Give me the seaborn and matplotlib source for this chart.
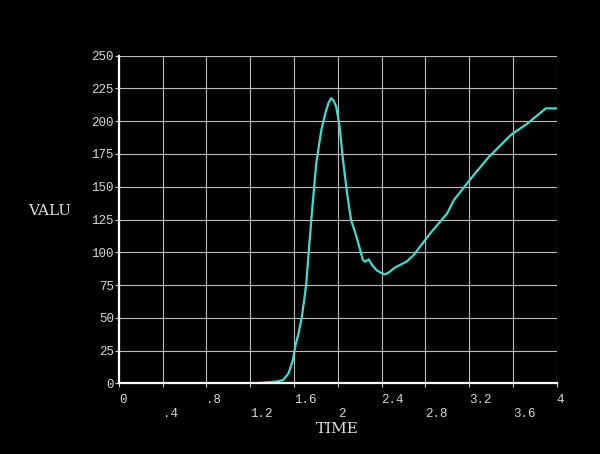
import matplotlib
matplotlib.use("Agg")
import matplotlib.pyplot as plt
import seaborn as sns
import numpy as np

# values
time = [0.0, 1.2, 1.3, 1.4, 1.45, 1.5, 1.55, 1.59, 1.611, 1.641, 1.672,
        1.693, 1.712, 1.724, 1.736, 1.748, 1.76, 1.779, 1.803, 1.849,
        1.886, 1.915, 1.938, 1.96, 1.986,
        2.016, 2.048, 2.085, 2.121, 2.161, 2.2, 2.23, 2.249, 2.282, 2.313,
        2.358, 2.425, 2.456, 2.526, 2.627, 2.694, 2.844, 2.999, 3.06,
        3.228, 3.38, 3.579, 3.732, 3.9, 4.0]
valu = [0.0, 0.0, 0.3, 1.0, 1.5, 2.5, 7.6, 17.8, 28.0, 38.0, 51.0,
        63.5, 76.0, 89.0, 102.0, 114.0, 127.0, 145.0, 168.0, 193.0,
        206.0, 214.0, 217.5, 216.0, 211.0,
        196.0, 170.0, 145.0, 124.5, 114.5, 103.0, 94.0, 92.8, 94.6, 90.2,
        86.0, 83.1, 84.0, 88.5, 92.8, 98.0, 114.4, 129.7, 139.8,
        157.6, 172.8, 189.4, 198.3, 209.8, 209.8]

x_ticks = [0, 0.4, 0.8, 1.2, 1.6, 2.0, 2.4, 2.8, 3.2, 3.6, 4.0]
x_tick_labels = ['0', '.4', '.8', '1.2', '1.6', '2', '2.4', '2.8', '3.2', '3.6', '4']
y_ticks = [0, 25, 50, 75, 100, 125, 150, 175, 200, 225, 250]

sns.set_theme(style="dark")
plt.rcParams['font.family'] = ['Liberation Mono', 'DejaVu Sans Mono']

fig = plt.figure(figsize=(6, 4.54), dpi=100, facecolor='black')
ax = fig.add_axes([0.198, 0.1557, 0.730, 0.7216])
ax.set_facecolor('black')

sns.lineplot(x=time, y=valu, ax=ax, color='#40dcd2', linewidth=1.6, sort=False)

ax.set_xlim(0, 4)
ax.set_ylim(0, 250)
ax.set_xticks(x_ticks)
ax.set_xticklabels(x_tick_labels, ha='left', color='#d8d8d8', fontsize=9)
ax.set_yticks(y_ticks)
ax.set_yticklabels([str(v) for v in y_ticks], color='#d8d8d8', fontsize=9)

ax.grid(True, color='#bdbdbd', linewidth=0.8)
ax.tick_params(axis='x', direction='out', length=3, width=0.8, color='#d0d0d0', pad=5, bottom=True)
ax.tick_params(axis='y', direction='out', length=3, width=0.8, color='#d0d0d0', pad=0.5, left=True)
for i, tick in enumerate(ax.xaxis.get_major_ticks()):
    if i % 2 == 1:
        tick.set_pad(15)

for side in ['top', 'right']:
    ax.spines[side].set_visible(False)
for side in ['left', 'bottom']:
    ax.spines[side].set_color('white')
    ax.spines[side].set_linewidth(1.6)

ax.set_xlabel('')
ax.set_ylabel('')
fig.text(49.5 / 600, 1 - 211 / 454, 'VALU', color='#e0e0e0', fontsize=11,
         family=['DejaVu Serif'], ha='center', va='center')
fig.text(337 / 600, 1 - 429 / 454, 'TIME', color='#e0e0e0', fontsize=11,
         family=['DejaVu Serif'], ha='center', va='center')

fig.savefig('out.png', dpi=100, facecolor='black')
